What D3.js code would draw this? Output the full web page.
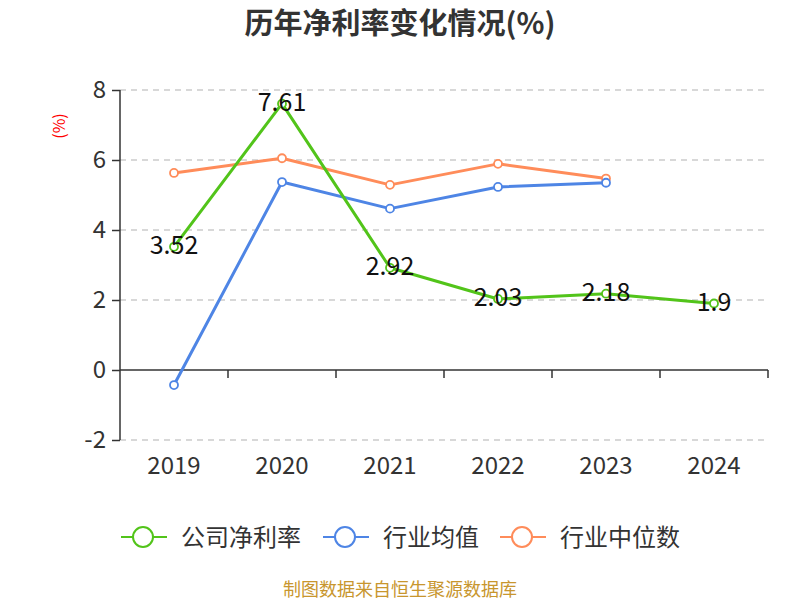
<!DOCTYPE html>
<html><head><meta charset="utf-8">
<script src="https://cdn.jsdelivr.net/npm/d3@7"></script>
<style>body{margin:0;background:#fff;font-family:"Noto Sans CJK SC","Noto Sans",sans-serif;}</style>
</head><body><svg id="c" width="800" height="600"></svg>
<script>
const years = ["2019","2020","2021","2022","2023","2024"];
const company = [3.52, 7.61, 2.92, 2.03, 2.18, 1.9];
const industryAvg = [-0.43, 5.37, 4.61, 5.23, 5.35];
const industryMedian = [5.63, 6.05, 5.29, 5.89, 5.47];
const yTicks = [-2, 0, 2, 4, 6, 8];
const seriesNames = ["公司净利率", "行业均值", "行业中位数"];
const colors = ["#52c41a", "#4e85e5", "#ff8c5a"];

const svg = d3.select("#c");
const font = '"Noto Sans CJK SC","Noto Sans",sans-serif';
const x = d3.scaleBand().domain(years).range([120, 768]);
const y = d3.scaleLinear().domain([-2, 8]).range([440, 90]);

svg.append("text").attr("x", 400).attr("y", 34).attr("text-anchor", "middle")
  .attr("font-size", 29).attr("font-weight", "bold").attr("fill", "#333").attr("font-family", font)
  .text("历年净利率变化情况(%)");

svg.append("text").attr("transform", "translate(65,126) rotate(-90)").attr("text-anchor", "middle")
  .attr("font-size", 16).attr("fill", "red").attr("font-family", font).text("(%)");

// grid
svg.append("g").selectAll("line").data(yTicks.filter(d => d !== 0)).join("line")
  .attr("x1", 120).attr("x2", 768).attr("y1", d => y(d)).attr("y2", d => y(d))
  .attr("stroke", "#ccc").attr("stroke-width", 1.5).attr("stroke-dasharray", "6,5");

// y axis
const ya = svg.append("g").attr("transform", "translate(120,0)")
  .call(d3.axisLeft(y).tickValues(yTicks).tickSize(8).tickPadding(6).tickFormat(d => String(d)));
ya.select(".domain").attr("stroke", "#333").attr("stroke-width", 1.5).attr("d", `M0,${y(-2)}V${y(8)}`);
ya.selectAll(".tick line").attr("stroke", "#333").attr("stroke-width", 1.5);
ya.selectAll(".tick text").attr("font-size", 24).attr("fill", "#333").attr("font-family", font);

// x axis at zero
const xa = svg.append("g").attr("transform", `translate(0,${y(0)})`)
  .call(d3.axisBottom(x).tickSize(0).tickFormat(""));
xa.select(".domain").attr("stroke", "#333").attr("stroke-width", 1.5).attr("d", "M120,0H768");
xa.selectAll(".tick").remove();
svg.append("g").selectAll("line").data(years).join("line")
  .attr("x1", d => x(d) + x.bandwidth()).attr("x2", d => x(d) + x.bandwidth())
  .attr("y1", y(0)).attr("y2", y(0) + 8).attr("stroke", "#333").attr("stroke-width", 1.5);
svg.append("g").selectAll("text").data(years).join("text")
  .attr("x", d => x(d) + x.bandwidth() / 2).attr("y", 474).attr("text-anchor", "middle")
  .attr("font-size", 24).attr("fill", "#333").attr("font-family", font).text(d => d);

const cx = i => x(years[i]) + x.bandwidth() / 2;
const line = d3.line().x((d, i) => cx(i)).y(d => y(d));
const allSeries = [company, industryAvg, industryMedian];
[2, 1, 0].forEach(k => {
  const data = allSeries[k];
  svg.append("path").datum(data).attr("d", line).attr("fill", "none")
    .attr("stroke", colors[k]).attr("stroke-width", 3).attr("stroke-linejoin", "round");
  svg.append("g").selectAll("circle").data(data).join("circle")
    .attr("cx", (d, i) => cx(i)).attr("cy", d => y(d)).attr("r", 4)
    .attr("fill", "#fff").attr("stroke", colors[k]).attr("stroke-width", 1.8);
});

svg.append("g").selectAll("text").data(company).join("text")
  .attr("x", (d, i) => cx(i)).attr("y", d => y(d) + 7).attr("text-anchor", "middle")
  .attr("font-size", 25).attr("fill", "#111").attr("font-family", font).text(d => d);

// legend
const lx = [121, 323, 500];
seriesNames.forEach((n, k) => {
  const g = svg.append("g").attr("transform", `translate(${lx[k]},537)`);
  g.append("line").attr("x1", 0).attr("x2", 46).attr("stroke", colors[k]).attr("stroke-width", 2);
  g.append("circle").attr("cx", 22).attr("r", 10).attr("fill", "#fff").attr("stroke", colors[k]).attr("stroke-width", 2);
  g.append("text").attr("x", 60).attr("y", 9).attr("font-size", 24).attr("fill", "#333")
    .attr("font-family", font).text(n);
});

svg.append("text").attr("x", 400).attr("y", 596).attr("text-anchor", "middle")
  .attr("font-size", 18).attr("fill", "#c8962e").attr("font-family", font).text("制图数据来自恒生聚源数据库");
</script></body></html>
